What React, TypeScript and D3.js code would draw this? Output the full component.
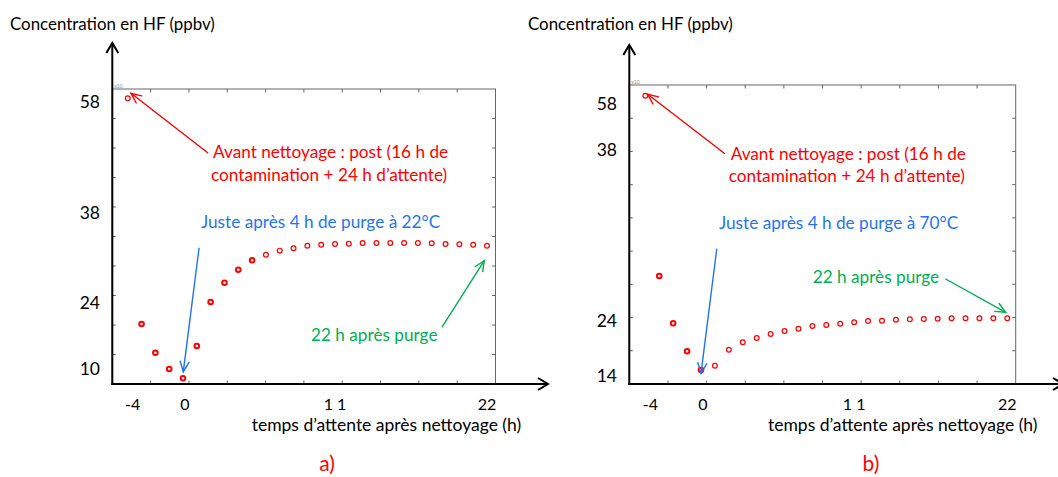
import React from 'react';
import * as d3 from 'd3';

// ---------- data ----------
const hours = [-4, -3, -2, -1, 0, 1, 2, 3, 4, 5, 6, 7, 8, 9, 10, 11, 12, 13, 14, 15, 16, 17, 18, 19, 20, 21, 22];
const concA = [58.6, 19.45, 13.33, 9.85, 7.87, 14.76, 24.1, 27.1, 29.13, 30.6, 31.47, 32.1, 32.46, 32.86, 33.02, 33.13, 33.18, 33.29, 33.29, 33.29, 33.29, 33.29, 33.24, 33.13, 33.09, 33.02, 32.86];
const concB = [61.25, 27.67, 23.53, 18.47, 15.08, 15.86, 18.75, 20.09, 20.87, 21.59, 22.14, 22.55, 23.04, 23.22, 23.46, 23.71, 23.95, 24.0, 24.08, 24.11, 24.14, 24.16, 24.2, 24.2, 24.2, 24.2, 24.2];
const yTicksA = [10, 24, 38, 58];
const yTicksB = [14, 24, 38, 58];
const xTicks = [-4, 0, 11, 22];
const xTickLabels = ['-4', '0', '1 1', '22'];
const boldHoursA = [-3, -2, -1, 0, 1, 2, 3, 4, 5];
const boldHoursB = [-3, -2, -1, 0];

const yTitle = 'Concentration en HF (ppbv)';
const xTitle = 'temps d\u2019attente après nettoyage (h)';
const noteRed = ['Avant nettoyage : post (16 h de', 'contamination + 24 h d\u2019attente)'];
const noteBlueA = 'Juste après 4 h de purge à 22°C';
const noteBlueB = 'Juste après 4 h de purge à 70°C';
const noteGreen = '22 h après purge';

const FONT = 'Lato, "Open Sans", sans-serif';
const RED = '#ff0000';
const BLUE = '#1f74f2';
const GREEN = '#00b050';

type Pt = [number, number];
interface Ann { lines: string[]; x: number; y: number[]; color: string; from: Pt; to: Pt }
interface PanelCfg {
  conc: number[]; yTicks: number[]; yRange: number[]; bold: number[];
  box: { l: number; t: number; r: number; b: number };
  xRange: [number, number]; yDivs: number; xDivs: number;
  arrowTop: number; arrowRight: number;
  titleX: number; yLabelRight: number; xTitleX: number; letter: string; letterX: number;
  anns: Ann[];
}

function Arrow({ from, to, color, w = 1.4, head = 11 }: { from: Pt; to: Pt; color: string; w?: number; head?: number }) {
  const ang = Math.atan2(to[1] - from[1], to[0] - from[0]);
  const a1 = ang + Math.PI - 0.42;
  const a2 = ang + Math.PI + 0.42;
  const p1: Pt = [to[0] + head * Math.cos(a1), to[1] + head * Math.sin(a1)];
  const p2: Pt = [to[0] + head * Math.cos(a2), to[1] + head * Math.sin(a2)];
  return (
    <g stroke={color} strokeWidth={w} fill="none" strokeLinecap="round">
      <line x1={from[0]} y1={from[1]} x2={to[0]} y2={to[1]} />
      <polyline points={`${p1[0]},${p1[1]} ${to[0]},${to[1]} ${p2[0]},${p2[1]}`} />
    </g>
  );
}

function Panel({ c }: { c: PanelCfg }) {
  const x = d3.scaleLinear().domain([0, 22]).range(c.xRange);
  const y = d3.scaleLinear().domain(c.yTicks).range(c.yRange);
  const { l, t, r, b } = c.box;
  const W = r - l, H = b - t;
  const tick = 3.5;
  const xt = d3.range(1, c.xDivs).map(i => l + (W * i) / c.xDivs);
  const yt = d3.range(1, c.yDivs).map(i => t + (H * i) / c.yDivs);
  return (
    <g>
      {/* title */}
      <text x={c.titleX} y={24} dy="0.35em" fontSize={16.9} fontFamily={FONT} fill="#000">{yTitle}</text>
      {/* box */}
      <rect x={l} y={t} width={W} height={H} fill="none" stroke="#666" strokeWidth={1} />
      {xt.map((v, i) => (
        <g key={'xt' + i} stroke="#666" strokeWidth={1}>
          <line x1={v} x2={v} y1={t} y2={t + tick} />
          <line x1={v} x2={v} y1={b} y2={b - tick} />
        </g>
      ))}
      {yt.map((v, i) => (
        <g key={'yt' + i} stroke="#666" strokeWidth={1}>
          <line x1={l} x2={l + tick} y1={v} y2={v} />
          <line x1={r} x2={r - tick} y1={v} y2={v} />
        </g>
      ))}
      <text x={l + 2} y={t - 1} fontSize={5} fill="#888" fontFamily={FONT}>x10</text>
      {/* axes */}
      <line x1={l} x2={l} y1={b + 1} y2={c.arrowTop} stroke="#000" strokeWidth={2} />
      <polyline points={`${l - 6},${c.arrowTop + 10} ${l},${c.arrowTop} ${l + 6},${c.arrowTop + 10}`} fill="none" stroke="#000" strokeWidth={2} />
      <line x1={l - 1} x2={c.arrowRight} y1={b} y2={b} stroke="#000" strokeWidth={2} />
      <polyline points={`${c.arrowRight - 10},${b - 6} ${c.arrowRight},${b} ${c.arrowRight - 10},${b + 6}`} fill="none" stroke="#000" strokeWidth={2} />
      {/* y tick labels */}
      {c.yTicks.map(v => (
        <text key={'yl' + v} x={c.yLabelRight} y={y(v)} dy="0.36em" textAnchor="end" fontSize={17.5} fontFamily={FONT} fill="#000">{v}</text>
      ))}
      {/* x tick labels */}
      {xTicks.map((v, i) => (
        <text key={'xl' + v} x={x(v) + (v < 0 ? 5 : v === 0 ? 2 : 0)} y={404.5} dy="0.36em" textAnchor="middle" fontSize={16} fontFamily={FONT} fill="#000">{xTickLabels[i]}</text>
      ))}
      <text x={c.xTitleX} y={424.5} dy="0.35em" fontSize={17.5} fontFamily={FONT} fill="#000">{xTitle}</text>
      <text x={c.letterX} y={464} dy="0.35em" textAnchor="middle" fontSize={21} fontFamily={FONT} fill={RED}>{c.letter}</text>
      {/* points */}
      {hours.map((h, i) => {
        const bold = c.bold.includes(h);
        return (
          <circle key={'p' + h} cx={x(h)} cy={y(c.conc[i])} r={bold ? 2.3 : 2.4} fill="#fff" stroke={RED} strokeWidth={bold ? 2 : 1.2} />
        );
      })}
      {/* annotations */}
      {c.anns.map((a, k) => (
        <g key={'a' + k}>
          {a.lines.map((s, j) => (
            <text key={j} x={a.x - (j === 1 ? 2 : 0)} y={a.y[j]} dy="0.35em" fontSize={17.2} fontFamily={FONT} fill={a.color}>{s}</text>
          ))}
          <Arrow from={a.from} to={a.to} color={a.color} />
        </g>
      ))}
    </g>
  );
}

const panelA: PanelCfg = {
  conc: concA, yTicks: yTicksA, yRange: [368.3, 302.7, 212.7, 101.7], bold: boldHoursA,
  box: { l: 112.3, t: 89, r: 495.5, b: 384 }, xRange: [183, 487], yDivs: 10, xDivs: 10,
  arrowTop: 43, arrowRight: 548, titleX: 10, yLabelRight: 100, xTitleX: 251.7, letter: 'a)', letterX: 327,
  anns: [
    { lines: noteRed, x: 213, y: [152, 175], color: RED, from: [207.7, 152.7], to: [131, 93.3] },
    { lines: [noteBlueA], x: 201, y: [222], color: BLUE, from: [199, 248.3], to: [183.3, 371.7] },
    { lines: [noteGreen], x: 311, y: [335], color: GREEN, from: [442.3, 326.7], to: [484.3, 260.7] },
  ],
};

const panelB: PanelCfg = {
  conc: concB, yTicks: yTicksB, yRange: [376, 320.7, 150, 103.3], bold: boldHoursB,
  box: { l: 629.3, t: 85, r: 1015.7, b: 384 }, xRange: [701, 1007.3], yDivs: 9, xDivs: 10,
  arrowTop: 45, arrowRight: 1063, titleX: 528, yLabelRight: 617, xTitleX: 768, letter: 'b)', letterX: 871,
  anns: [
    { lines: noteRed, x: 730.7, y: [154, 176], color: RED, from: [724.3, 153.3], to: [647.7, 94.3] },
    { lines: [noteBlueB], x: 719, y: [223.3], color: BLUE, from: [716.7, 249.3], to: [701, 373.3] },
    { lines: [noteGreen], x: 812.7, y: [277.3], color: GREEN, from: [945.7, 279], to: [1005.7, 312.3] },
  ],
};

export default function App() {
  return (
    <svg width={1058} height={477} style={{ position: 'absolute', left: 0, top: 0, background: '#fff' }}>
      <rect width={1058} height={477} fill="#fff" />
      <Panel c={panelA} />
      <Panel c={panelB} />
    </svg>
  );
}
